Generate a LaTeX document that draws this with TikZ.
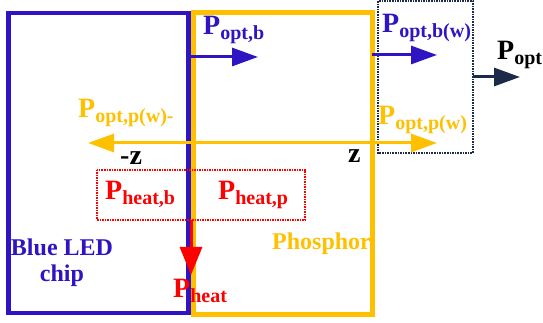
\documentclass[tikz,border=0pt]{standalone}
\usepackage{fontspec}
\setmainfont{Liberation Serif}
\usetikzlibrary{arrows.meta,positioning}
\definecolor{ledblue}{HTML}{2E14C2}
\definecolor{phosyellow}{HTML}{FFC000}
\definecolor{heatred}{HTML}{FF0000}
\definecolor{optnavy}{HTML}{1C2A4A}
\newcommand\Pw[1]{P\raisebox{-5pt}{\fontsize{20}{22}\selectfont #1}}

\begin{document}
\begin{tikzpicture}[
        x=1pt, y=1pt,
        lbl/.style={
          inner sep=0pt,
          anchor=base west,
          font=\fontsize{28}{30}\selectfont\bfseries
        },
        txt/.style={
          inner sep=0pt,
          align=center,
          font=\fontsize{24}{26}\selectfont\bfseries
        },
        arrow/.style={
          -{Triangle[length=26pt,width=18pt]},
          line width=3pt
        }
      ]
      \useasboundingbox (0,0) rectangle (543,323);

      % chip and phosphor
      \draw[ledblue, line width=4.5pt] (8.5,10) rectangle (188.5,310);
      \draw[phosyellow, line width=5pt] (193,8) rectangle (372,310.5);
      \draw[optnavy, line width=1.6pt, densely dotted] (378,322) rectangle (473,170);
      \draw[heatred, line width=1.5pt, densely dotted] (97,153) rectangle (305,103);

      \coordinate (bin) at (190,266);
      \coordinate (bout) at (258,266);
      \coordinate (bwin) at (372,268);
      \coordinate (bwout) at (437,268);
      \coordinate (oin) at (473,246);
      \coordinate (oout) at (520,246);
      \coordinate (zero) at (191,180);
      \coordinate (zneg) at (88,180);
      \coordinate (zpos) at (437,180);
      \coordinate (hin) at (191,103);
      \coordinate (hout) at (191,48);

      \draw[arrow, ledblue] (bin) -- (bout);
      \draw[arrow, ledblue] (bwin) -- (bwout);
      \draw[arrow, optnavy] (oin) -- (oout);
      \draw[arrow, phosyellow] (zero) -- (zneg);
      \draw[arrow, phosyellow] (zero) -- (zpos);
      \draw[arrow, heatred, -{Triangle[length=28pt,width=22pt]}] (hin) -- (hout);

      \node[lbl, ledblue] (popb) at (203,288) {\Pw{opt,b}};
      \node[lbl, ledblue] (popbw) at (382,290) {\Pw{opt,b(w)}};
      \node[lbl, black] (popt) at (497,263) {\Pw{opt}};
      \node[lbl, phosyellow] (poppwm) at (78,205) {\Pw{opt,p(w)-}};
      \node[lbl, phosyellow] (poppw) at (378,198) {\Pw{opt,p(w)}};
      \node[lbl, black] (zm) at (120,158) {-z};
      \node[lbl, black] (zp) at (348,160) {z};
      \node[lbl, heatred] (phb) at (105,123) {\Pw{heat,b}};
      \node[lbl, heatred] (php) at (218,123) {\Pw{heat,p}};
      \node[lbl, heatred] (ph) at (173,25) {\Pw{heat}};
      \node[txt, ledblue] (chip) at (62,60) {Blue LED\\chip};
      \node[txt, phosyellow, anchor=base west] (phos) at (272,73) {Phosphor};

      \end{tikzpicture}
\end{document}
